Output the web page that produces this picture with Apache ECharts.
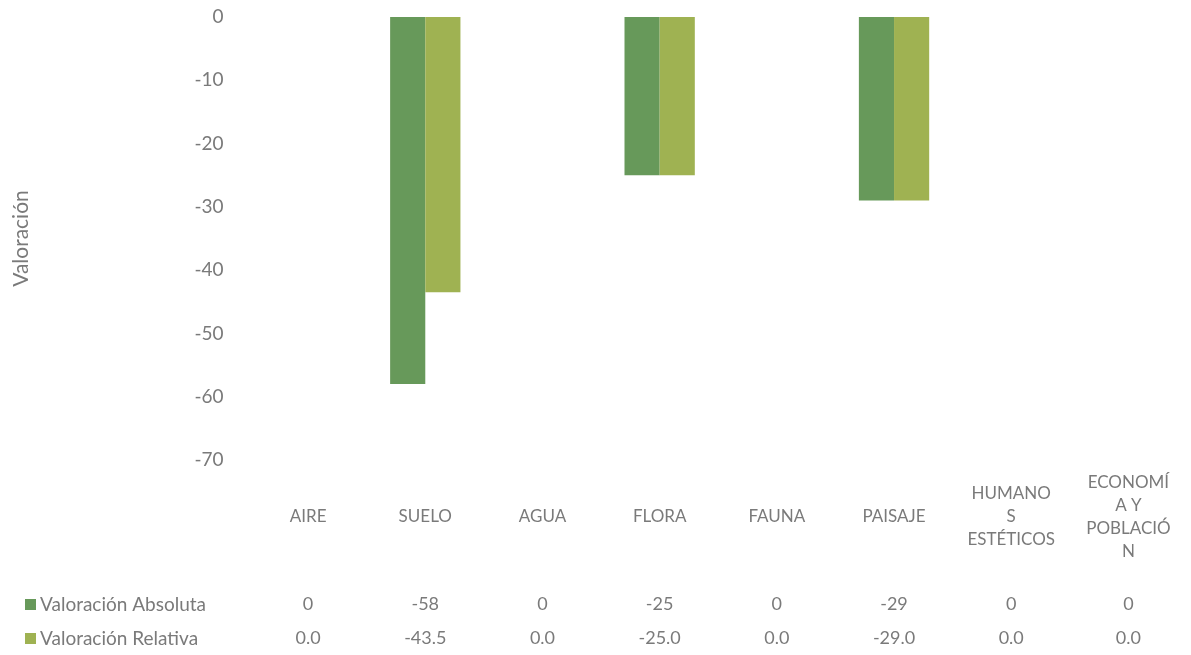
<!DOCTYPE html>
<html>
<head>
<meta charset="utf-8">
<script src="https://cdn.jsdelivr.net/npm/echarts@6/dist/echarts.min.js"></script>
<style>
  html, body { margin: 0; padding: 0; background: #fff; }
  #chart { width: 1191px; height: 655px; }
</style>
</head>
<body>
<div id="chart"></div>
<script>
// categorías (etiquetas tal como aparecen partidas en la tabla)
const categories = ['AIRE', 'SUELO', 'AGUA', 'FLORA', 'FAUNA', 'PAISAJE',
  'HUMANO\nS\nESTÉTICOS', 'ECONOMÍ\nA Y\nPOBLACIÓ\nN']
const valAbsoluta = [0, -58, 0, -25, 0, -29, 0, 0]
const valRelativa = [0, -43.5, 0, -25, 0, -29, 0, 0]
const yTicks = { min: -70, max: 0, interval: 10 }

const colorAbs = '#67995a'
const colorRel = '#9fb252'
const textGray = '#7a7a7a'
const fontFam = 'Lato, "Open Sans", sans-serif'

const chart = echarts.init(document.getElementById('chart'))

// ejes extra solo para las filas de la tabla de datos
const tableAxis = (arr, margin, fmt) => ({
  type: 'category',
  data: categories,
  position: 'bottom',
  axisLine: { show: false },
  axisTick: { show: false },
  axisLabel: {
    margin: margin,
    verticalAlign: 'middle',
    interval: 0,
    color: textGray,
    fontSize: 18,
    fontFamily: fontFam,
    formatter: (v, i) => fmt(arr[i])
  }
})

// una leyenda por fila para que queden apiladas a la izquierda de la tabla
const legendRow = (name, top) => ({
  left: 20,
  top: top,
  itemWidth: 11,
  itemHeight: 11,
  icon: 'rect',
  textStyle: { color: textGray, fontSize: 19, fontFamily: fontFam, padding: [0, 0, 0, -1] },
  data: [name]
})

chart.setOption({
  animation: false,
  textStyle: { fontFamily: fontFam },
  grid: { left: 249.5, right: 4, top: 17, bottom: 195 },
  legend: [
    legendRow('Valoración Absoluta', 590),
    legendRow('Valoración Relativa', 624)
  ],
  xAxis: [
    {
      type: 'category',
      data: categories,
      axisLine: { show: false },
      axisTick: { show: false },
      axisLabel: {
        margin: 57,
        verticalAlign: 'middle',
        interval: 0,
        color: textGray,
        fontSize: 17,
        lineHeight: 23,
        fontFamily: fontFam
      }
    },
    tableAxis(valAbsoluta, 144, v => String(v)),
    tableAxis(valRelativa, 178, v => v.toFixed(1))
  ],
  yAxis: {
    type: 'value',
    min: yTicks.min,
    max: yTicks.max,
    interval: yTicks.interval,
    name: 'Valoración',
    nameLocation: 'middle',
    nameGap: 218,
    nameTextStyle: { color: textGray, fontSize: 21, fontFamily: fontFam },
    axisLine: { show: false },
    axisTick: { show: false },
    splitLine: { show: false },
    axisLabel: { color: textGray, fontSize: 19, margin: 26, fontFamily: fontFam }
  },
  series: [
    {
      name: 'Valoración Absoluta',
      type: 'bar',
      data: valAbsoluta,
      barGap: '0%',
      barCategoryGap: '40%',
      itemStyle: { color: colorAbs }
    },
    {
      name: 'Valoración Relativa',
      type: 'bar',
      data: valRelativa,
      barGap: '0%',
      barCategoryGap: '40%',
      itemStyle: { color: colorRel }
    }
  ]
})
</script>
</body>
</html>
